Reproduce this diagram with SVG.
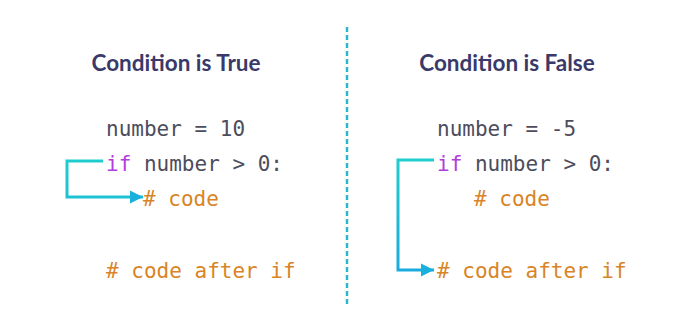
<svg xmlns="http://www.w3.org/2000/svg" width="688" height="327" viewBox="0 0 688 327">
  <defs>
    <marker id="head" viewBox="0 0 10 10" refX="10" refY="5" markerWidth="4.5" markerHeight="4.5" orient="auto" markerUnits="strokeWidth">
      <path d="M0,0 L10,5 L0,10 Z" fill="#1ab0de"/>
    </marker>
    <linearGradient id="flowGrad" gradientUnits="userSpaceOnUse" x1="0" y1="150" x2="0" y2="280">
      <stop offset="0" stop-color="#1fd0cc"/>
      <stop offset="1" stop-color="#1aa8e0"/>
    </linearGradient>
    <style>
      .title { font-family: "Lato", "Open Sans", sans-serif; font-weight: 700; font-size: 22.5px; fill: #3a3a6a; text-anchor: middle; }
      .code { font-family: "DejaVu Sans Mono", monospace; font-size: 21px; }
      .plain { fill: #4d4d5c; }
      .kw { fill: #b23ddc; }
      .cmt { fill: #d98426; }
      .flow { fill: none; stroke: url(#flowGrad); stroke-width: 3; marker-end: url(#head); }
    </style>
  </defs>
  <rect width="688" height="327" fill="#ffffff"/>

  <line id="divider" x1="347" y1="27" x2="347" y2="307" stroke="#2bb8c8" stroke-width="2.5" stroke-dasharray="5 3"/>

  <g id="true-case">
    <text class="title" x="176" y="71">Condition is True</text>
    <text class="code plain" x="106" y="136">number = 10</text>
    <text class="code" x="106" y="171"><tspan class="kw">if</tspan><tspan class="plain"> number &gt; 0:</tspan></text>
    <text class="code cmt" x="143" y="206"># code</text>
    <text class="code cmt" x="106" y="278"># code after if</text>
  </g>

  <g id="false-case">
    <text class="title" x="507" y="71">Condition is False</text>
    <text class="code plain" x="437" y="136">number = -5</text>
    <text class="code" x="437" y="171"><tspan class="kw">if</tspan><tspan class="plain"> number &gt; 0:</tspan></text>
    <text class="code cmt" x="474" y="206"># code</text>
    <text class="code cmt" x="437" y="278"># code after if</text>
  </g>

  <g id="connectors">
    <path class="flow" d="M103,161 H67 V197 H143"/>
    <path class="flow" d="M434,160 H398 V270 H434"/>
  </g>
</svg>
